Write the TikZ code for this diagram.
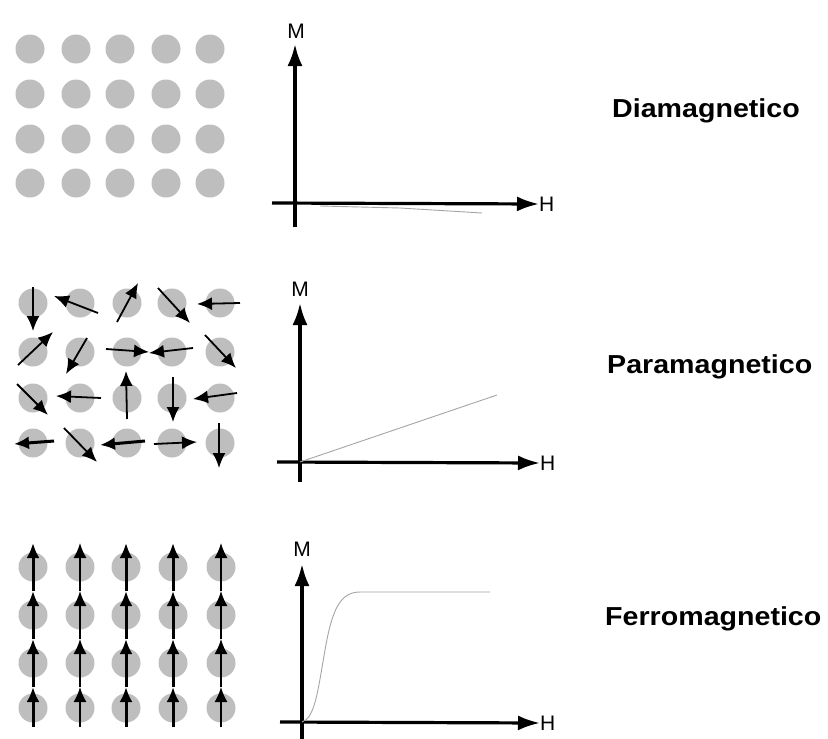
\documentclass[tikz,border=0pt]{standalone}
\usepackage{fontspec}
\setmainfont{Liberation Sans}
\usetikzlibrary{arrows.meta}
\definecolor{atom}{RGB}{190,190,190}
\definecolor{curvegray}{RGB}{165,165,165}
\begin{document}
\begin{tikzpicture}[x=1pt,y=-1pt,
  atomdot/.style={circle,fill=atom,minimum size=29pt,inner sep=0pt},
  spin/.style={line width=1.8pt,-{Latex[length=15pt,width=13pt]}},
  spinthick/.style={line width=3pt,-{Latex[length=15pt,width=13pt]}},
  axis/.style={line width=3.2pt,-{Latex[length=22pt,width=15pt]}},
  axlabel/.style={font=\fontsize{21}{21}\selectfont,inner sep=0pt},
  title/.style={font=\bfseries\fontsize{26}{30}\selectfont,xscale=1.1,inner sep=0pt},
  mcurve/.style={draw=curvegray,line width=0.9pt}]
\useasboundingbox[fill=white] (0,0) rectangle (828,739);

% ---------- Diamagnetico ----------
\foreach \c/\x in {1/30,2/76,3/120,4/166,5/210}
  \foreach \r/\y in {1/49,2/94,3/139,4/183}
    \node[atomdot] (d\r\c) at (\x,\y) {};
\coordinate (dO) at (295,203);
\coordinate (dB) at (295,227);
\coordinate (dL) at (272,203);
\node[axlabel] (dM) at (296,31) {M};
\node[axlabel,anchor=west] (dH) at (539,204) {H};
\draw[axis] (dB) -- (295,44);
\draw[axis] (dL) -- (dH.west);
\draw[mcurve] (320,206) -- (400,208) -- (482,213);
\node[title,anchor=base west] (dT) at (612,117) {Diamagnetico};

% ---------- Paramagnetico ----------
\foreach \c/\x in {1/33,2/80,3/127,4/172,5/220}
  \foreach \r/\y in {1/303,2/352,3/398,4/443}
    \node[atomdot] (p\r\c) at (\x,\y) {};
% row 1
\draw[spin] (33,287) -- (33,331);
\draw[spin] (98,313) -- (54,296);
\draw[spin] (117,322) -- (138,283);
\draw[spin] (158,288) -- (190,323);
\draw[spin] (240,303) -- (197,304);
% row 2
\draw[spin] (18,365) -- (53,332);
\draw[spin] (87,338) -- (66,374);
\draw[spin] (106,349) -- (149,352);
\draw[spin] (193,348) -- (149,353);
\draw[spin] (205,335) -- (236,368);
% row 3
\draw[spin] (17,384) -- (48,415);
\draw[spin] (101,398) -- (56,396);
\draw[spin] (127,419) -- (126,371);
\draw[spin] (173,377) -- (173,422);
\draw[spin] (237,393) -- (193,399);
% row 4
\draw[spinthick] (54,441) -- (14,444);
\draw[spin] (64,428) -- (97,462);
\draw[spinthick] (145,441) -- (100,445);
\draw[spin] (154,444) -- (197,442);
\draw[spin] (219,423) -- (219,468);
\coordinate (pO) at (300,462);
\coordinate (pB) at (300,482);
\coordinate (pL) at (277,462);
\node[axlabel] (pM) at (300,289) {M};
\node[axlabel,anchor=west] (pH) at (540,463) {H};
\draw[axis] (pB) -- (300,303);
\draw[axis] (pL) -- (pH.west);
\draw[mcurve] (pO) -- (497,395);
\node[title,anchor=base west] (pT) at (607,373) {Paramagnetico};

% ---------- Ferromagnetico ----------
\foreach \c/\x in {1/33,2/80,3/126,4/173,5/221}
  \foreach \r/\y in {1/567,2/615,3/663,4/708}
    \node[atomdot] (f\r\c) at (\x,\y) {};
\foreach \x/\st in {33/spinthick,80/spin,126/spinthick,173/spinthick,221/spin}
  \foreach \y/\t in {591/543,639/591,687/639,727/687}
    \draw[\st] (\x,\y) -- (\x,\t);
\coordinate (fO) at (302,722);
\coordinate (fB) at (302,739);
\coordinate (fL) at (280,722);
\node[axlabel] (fM) at (302,549) {M};
\node[axlabel,anchor=west] (fH) at (540,723) {H};
\draw[axis] (fB) -- (302,564);
\draw[axis] (fL) -- (fH.west);
\draw[mcurve] (fO) .. controls (315,718) and (318,690) .. (325,650)
  .. controls (332,610) and (340,592) .. (360,592) -- (490,592);
\node[title,anchor=base west] (fT) at (605,625) {Ferromagnetico};
\end{tikzpicture}
\end{document}
